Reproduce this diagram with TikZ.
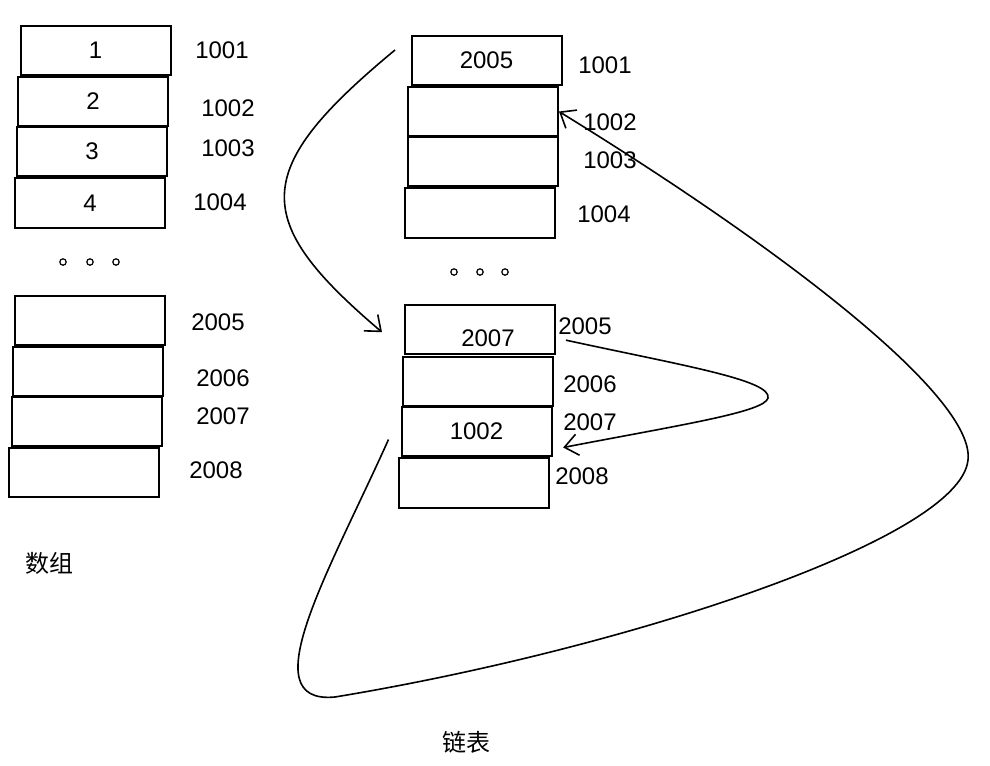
\documentclass[tikz,border=0pt]{standalone}
\usepackage{fontspec}
\setmainfont{Liberation Sans}
\newfontfamily\cjk{Noto Sans CJK SC}
\usetikzlibrary{arrows.meta}
\usetikzlibrary{positioning}

\begin{document}
\begin{tikzpicture}[x=0.75pt,y=-0.75pt,font=\fontsize{18}{21}\selectfont]
		\tikzstyle{cell} = [rectangle, minimum width=112.5pt, minimum height=37pt, text centered, draw=black, line width=1.5pt]
		\tikzstyle{addr} = [inner sep=0pt]
		\tikzstyle{arrow} = [line width=1.2pt,-{Straight Barb[length=10pt,width=16pt]}]
		\useasboundingbox (0,0) rectangle (990,765);
		% array
		\node (a1001) [cell] at (95.5,50.5) {1};
		\node (a1002) [cell] at (93,101.5) {2};
		\node (a1003) [cell] at (92,151.5) {3};
		\node (a1004) [cell] at (90,203) {4};
		\node (a2005) [cell] at (90,320.5) {};
		\node (a2006) [cell] at (87.5,371.5) {};
		\node (a2007) [cell] at (87,421.5) {};
		\node (a2008) [cell] at (84,472.5) {};
		\node [addr] at (222,50) {1001};
		\node [addr] at (228,108) {1002};
		\node [addr] at (228,148) {1003};
		\node [addr] at (220,202) {1004};
		\node [addr] at (218,322) {2005};
		\node [addr] at (223,378) {2006};
		\node [addr] at (223,416) {2007};
		\node [addr] at (216,470) {2008};
		\node (arrname) [addr] at (50,563) {\cjk 数组};
		% linked list
		\node (b1001) [cell] at (486.5,60.5) {2005};
		\node (b1002) [cell] at (483,111.5) {};
		\node (b1003) [cell] at (482.5,161.5) {};
		\node (b1004) [cell] at (480,213) {};
		\node (b2005) [cell] at (480,329.5) {};
		\node (b2006) [cell] at (477.5,381.5) {};
		\node (b2007) [cell] at (476.5,431.5) {1002};
		\node (b2008) [cell] at (474,483) {};
		\node [addr] at (488,338) {2007};
		\node [addr] at (605,65) {1001};
		\node [addr] at (610,122) {1002};
		\node [addr] at (610,160) {1003};
		\node [addr] at (604,214) {1004};
		\node [addr] at (585,326) {2005};
		\node [addr] at (590,384) {2006};
		\node [addr] at (590,422) {2007};
		\node [addr] at (582,476) {2008};
		\node (listname) [addr] at (466,742) {\cjk 链表};
		% dots
		\foreach \x in {63,90,116} \draw[line width=0.9pt] (\x,262) circle (2.4pt);
		\foreach \x in {454,480,505} \draw[line width=0.9pt] (\x,272) circle (2.4pt);
		% pointers
		\coordinate (head) at (395,50);
		\draw [arrow] (head) .. controls (250,170) and (250,220) .. ([xshift=-16.5pt,yshift=-2pt]b2005.west);
		\draw [arrow] ([xshift=7.5pt,yshift=-8pt]b2005.east) .. controls (680,365) and (772,380) .. (768,398)
			.. controls (765,412) and (680,425) .. ([xshift=8pt,yshift=-12pt]b2007.east);
		\draw [arrow] ([xshift=-9pt,yshift=-6pt]b2007.west) .. controls (330,570) and (250,705) .. (335,697)
			.. controls (620,650) and (960,540) .. (968,460)
			.. controls (975,400) and (800,260) .. (b1002.east);
	\end{tikzpicture}
\end{document}
